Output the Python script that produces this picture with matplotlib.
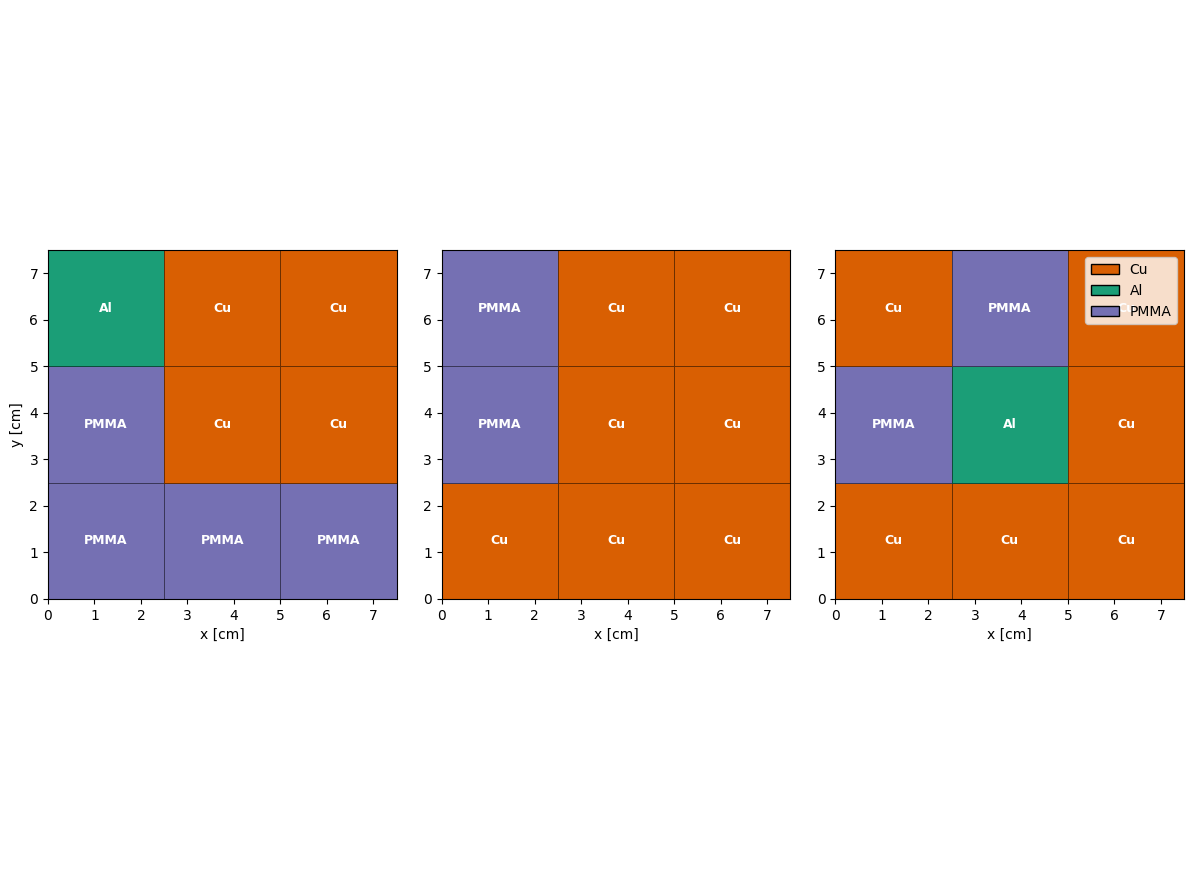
import matplotlib.pyplot as plt
import numpy as np
from matplotlib.colors import ListedColormap
from matplotlib.patches import Patch

# Materials and their colours.
materials = ["Cu", "Al", "PMMA"]
colors = ["#d95f02", "#1b9e77", "#7570b3"]

# Cell edges in cm.
edges = [0, 2.5, 5, 7.5]

# Material layouts, rows from bottom to top.
layout_1 = [["PMMA", "PMMA", "PMMA"],
            ["PMMA", "Cu", "Cu"],
            ["Al", "Cu", "Cu"]]
layout_2 = [["Cu", "Cu", "Cu"],
            ["PMMA", "Cu", "Cu"],
            ["PMMA", "Cu", "Cu"]]
layout_3 = [["Cu", "Cu", "Cu"],
            ["PMMA", "Al", "Cu"],
            ["Cu", "PMMA", "Cu"]]
layouts = [layout_1, layout_2, layout_3]

cmap = ListedColormap(colors)

fig, axes = plt.subplots(1, 3, figsize=(11.93, 8.94), dpi=100)
fig.subplots_adjust(left=0.0402, right=0.9925, bottom=0.330, top=0.7204,
                    wspace=0.129)

for ax, layout in zip(axes, layouts):
    grid = np.array([[materials.index(m) for m in row] for row in layout])
    ax.pcolormesh(edges, edges, grid, cmap=cmap, vmin=-0.5, vmax=2.5,
                  edgecolors=(0, 0, 0, 0.5), linewidth=0.5)
    for i, row in enumerate(layout):
        for j, m in enumerate(row):
            xc = (edges[j] + edges[j + 1]) / 2
            yc = (edges[i] + edges[i + 1]) / 2
            ax.text(xc, yc, m, color="white", fontsize=9, fontweight="bold",
                    ha="center", va="center")
    ax.set_xlim(0, 7.5)
    ax.set_ylim(0, 7.5)
    ax.set_aspect("equal")
    ax.set_xlabel("x [cm]")

axes[0].set_ylabel("y [cm]")

handles = [Patch(facecolor=c, edgecolor="k", label=m)
           for m, c in zip(materials, colors)]
axes[2].legend(handles=handles, loc="upper right")

fig.savefig("out.png", dpi=100)
